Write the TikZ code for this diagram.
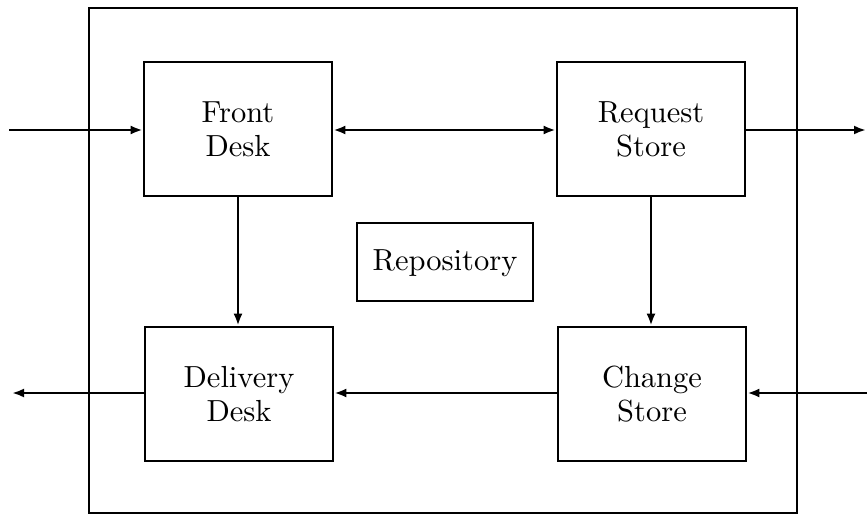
\documentclass[tikz,border=0pt]{standalone}
\usetikzlibrary{arrows.meta}
\usepackage{graphicx}
% labels are set in the 10pt design size and enlarged
\newcommand{\boxlabel}[1]{\scalebox{3.05}{\fontsize{10}{11}\selectfont\begin{tabular}{@{}c@{}}#1\end{tabular}}}
\begin{document}
\begin{tikzpicture}[x=1pt,y=-1pt,
  line width=2.7pt,
  unit/.style={draw, minimum width=188pt, minimum height=134pt, inner sep=0pt,
    label={[yshift=-4pt, inner sep=0pt]center:\boxlabel{#1}}},
  store/.style={draw, minimum width=176pt, minimum height=78pt, inner sep=0pt,
    label={[yshift=-2pt, inner sep=0pt]center:\boxlabel{#1}}},
  flow/.style={-{Latex[length=12pt,width=9pt]}},
  both/.style={{Latex[length=12pt,width=9pt]}-{Latex[length=12pt,width=9pt]}}]
  \useasboundingbox (0,0) rectangle (867,516);

  % enclosing system boundary
  \node[draw, minimum width=708pt, minimum height=505pt, inner sep=0pt] (frame) at (443,260.5) {};

  % desks and stores
  \node[unit={Front\\Desk}]      (front)    at (238,129) {};
  \node[unit={Request\\Store}]   (request)  at (651,129) {};
  \node[unit={Delivery\\Desk}]   (delivery) at (239,394) {};
  \node[unit={Change\\Store}]    (change)   at (652,394) {};
  \node[store={Repository}]      (repo)     at (445,262) {};

  % external endpoints
  \coordinate (inA)  at (9,130);
  \coordinate (outA) at (866,130);
  \coordinate (outB) at (12,393);
  \coordinate (inB)  at (867,393);

  % connectors
  \draw[flow] (inA) -- (inA -| front.west);
  \draw[both] (front.east |- inA) -- (request.west |- inA);
  \draw[flow] (request.east |- outA) -- (outA);
  \draw[flow] (front.south) -- (delivery.north -| front.south);
  \draw[flow] (request.south) -- (change.north -| request.south);
  \draw[flow] (change.west |- outB) -- (delivery.east |- outB);
  \draw[flow] (delivery.west |- outB) -- (outB);
  \draw[flow] (inB) -- (change.east |- inB);
\end{tikzpicture}
\end{document}
